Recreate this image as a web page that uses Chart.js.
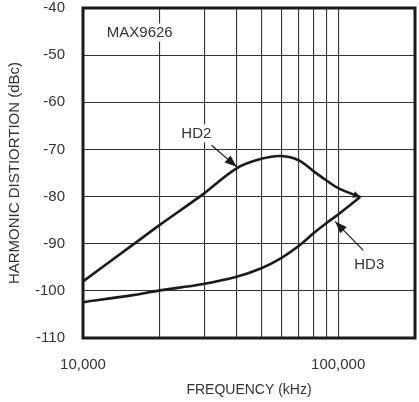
<!DOCTYPE html>
<html lang="en">
<head>
  <meta charset="UTF-8">
  <title>MAX9626 Harmonic Distortion vs Frequency</title>
  <script src="https://cdn.jsdelivr.net/npm/chart.js"></script>
  <style>
    html, body { margin: 0; padding: 0; background: #fff; }
    .box { width: 419px; height: 402px; position: relative; }
  </style>
</head>
<body>
  <div class="box"><canvas id="chartHD"></canvas></div>

  <script>
    // data
    const freqHD2 = [10000, 15700, 20000, 29200, 40000, 50000, 60000, 70000, 80000, 90000, 100000, 122000];
    const hd2     = [-98, -90.2, -86, -79.7, -74, -72, -71.4, -72.3, -74.6, -76.6, -78.2, -80.1];
    const freqHD3 = [10000, 15700, 20000, 29200, 40000, 50000, 60000, 70000, 80000, 90000, 100000, 122000];
    const hd3     = [-102.4, -100.9, -99.9, -98.6, -97, -95.2, -93, -90.5, -87.8, -85.6, -83.8, -80.1];

    const xGrid   = [10000, 20000, 30000, 40000, 50000, 60000, 70000, 80000, 90000, 100000, 200000];
    const xLabels = { 10000: '10,000', 100000: '100,000' };
    const yTicks  = [-110, -100, -90, -80, -70, -60, -50, -40];

    const FONT = "'Liberation Sans Narrow', 'Liberation Sans', Arial, sans-serif";
    const INK = '#1a1a1a';
    const TEXT = '#333';

    // text labels and arrows, anchored in data units
    const notes = [
      { text: 'MAX9626', x: 12400, y: -45.2, align: 'left' },
      { text: 'HD2', x: 27800, y: -66.6, align: 'center' },
      { text: 'HD3', x: 132400, y: -94.4, align: 'center' }
    ];
    const arrows = [
      { from: [31900, -69.1], to: [40000, -73.7] },
      { from: [125400, -91.4], to: [97300, -85.3] }
    ];

    function arrowHead(ctx, x0, y0, x1, y1, len, wid) {
      const a = Math.atan2(y1 - y0, x1 - x0);
      ctx.beginPath();
      ctx.moveTo(x1, y1);
      ctx.lineTo(x1 - len * Math.cos(a) + wid * Math.sin(a), y1 - len * Math.sin(a) - wid * Math.cos(a));
      ctx.lineTo(x1 - len * Math.cos(a) - wid * Math.sin(a), y1 - len * Math.sin(a) + wid * Math.cos(a));
      ctx.closePath();
      ctx.fill();
    }

    const extras = {
      id: 'extras',
      beforeDatasetsDraw(chart) {
        const { ctx, scales: { x, y } } = chart;
        ctx.save();
        ctx.font = '15px ' + FONT;
        ctx.textBaseline = 'middle';
        notes.forEach(n => {
          const px = x.getPixelForValue(n.x), py = y.getPixelForValue(n.y);
          const w = ctx.measureText(n.text).width;
          const left = n.align === 'left' ? px : px - w / 2;
          ctx.fillStyle = '#fff';
          ctx.fillRect(left - 2, py - 9, w + 4, 18);
          ctx.fillStyle = TEXT;
          ctx.textAlign = n.align;
          ctx.fillText(n.text, px, py);
        });
        ctx.restore();
      },
      afterDatasetsDraw(chart) {
        const { ctx, chartArea: a, scales: { x, y } } = chart;
        ctx.save();
        ctx.strokeStyle = INK;
        ctx.fillStyle = INK;
        ctx.lineWidth = 1.2;
        arrows.forEach(ar => {
          const x0 = x.getPixelForValue(ar.from[0]), y0 = y.getPixelForValue(ar.from[1]);
          const x1 = x.getPixelForValue(ar.to[0]), y1 = y.getPixelForValue(ar.to[1]);
          ctx.beginPath();
          ctx.moveTo(x0, y0);
          ctx.lineTo(x1, y1);
          ctx.stroke();
          arrowHead(ctx, x0, y0, x1, y1, 12, 4.5);
        });
        // small head at the end of HD2
        const n = freqHD2.length;
        arrowHead(ctx,
          x.getPixelForValue(freqHD2[n - 2]), y.getPixelForValue(hd2[n - 2]),
          x.getPixelForValue(freqHD2[n - 1]), y.getPixelForValue(hd2[n - 1]), 7, 3.5);
        // heavy frame
        ctx.lineWidth = 3;
        ctx.strokeRect(a.left, a.top, a.right - a.left, a.bottom - a.top);
        ctx.restore();
      }
    };

    const lineStyle = {
      borderColor: INK,
      borderWidth: 2.6,
      pointRadius: 0,
      fill: false,
      tension: 0.35
    };

    new Chart(document.getElementById('chartHD'), {
      type: 'line',
      data: {
        datasets: [
          Object.assign({ label: 'HD2', data: freqHD2.map((f, i) => ({ x: f, y: hd2[i] })) }, lineStyle),
          Object.assign({ label: 'HD3', data: freqHD3.map((f, i) => ({ x: f, y: hd3[i] })) }, lineStyle)
        ]
      },
      options: {
        responsive: true,
        maintainAspectRatio: false,
        animation: false,
        devicePixelRatio: 1,
        layout: { padding: { left: 0, top: 8, right: 4, bottom: 0 } },
        plugins: { legend: { display: false }, tooltip: { enabled: false } },
        scales: {
          x: {
            type: 'logarithmic',
            min: 10000,
            max: 200000,
            afterBuildTicks: s => { s.ticks = xGrid.map(v => ({ value: v })); },
            afterFit: s => { s.height = 64; s.paddingLeft = 0; s.paddingRight = 0; },
            grid: { color: '#333', lineWidth: 1.1, drawTicks: false },
            border: { display: false },
            ticks: {
              autoSkip: false,
              maxRotation: 0,
              padding: 18,
              color: TEXT,
              font: { family: FONT, size: 15 },
              callback: v => xLabels[v] || ''
            },
            title: {
              display: true,
              text: 'FREQUENCY (kHz)',
              color: TEXT,
              font: { family: FONT, size: 14 },
              padding: { top: 0, bottom: 3 }
            }
          },
          y: {
            min: -110,
            max: -40,
            afterBuildTicks: s => { s.ticks = yTicks.map(v => ({ value: v })); },
            afterFit: s => { s.width = 83; s.paddingTop = 0; s.paddingBottom = 0; },
            grid: { color: '#333', lineWidth: 1.1, drawTicks: false },
            border: { display: false },
            ticks: {
              padding: 18,
              color: TEXT,
              font: { family: FONT, size: 15 }
            },
            title: {
              display: true,
              text: 'HARMONIC DISTIORTION (dBc)',
              color: TEXT,
              font: { family: FONT, size: 15 },
              padding: { top: 6, bottom: 0 }
            }
          }
        }
      },
      plugins: [extras]
    });
  </script>
</body>
</html>
